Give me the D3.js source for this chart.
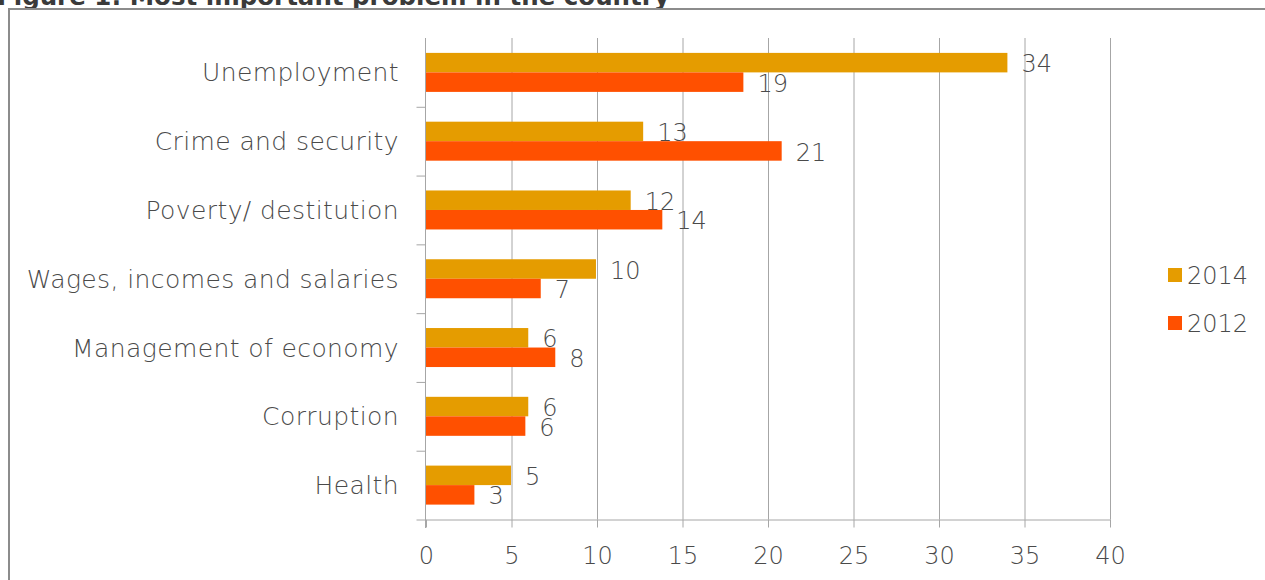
<!DOCTYPE html>
<html>
<head>
<meta charset="utf-8">
<script src="https://cdn.jsdelivr.net/npm/d3@7"></script>
<style>
  html, body { margin: 0; padding: 0; background: #fff; }
  svg { display: block; }
  .lbl { font-family: "DejaVu Sans", sans-serif; font-weight: 200; fill: #4a4a4a; }
</style>
</head>
<body>
<svg id="chart" width="1265" height="580"></svg>
<script>
const title = "Figure 1: Most important problem in the country";
const categories = ["Unemployment", "Crime and security", "Poverty/ destitution",
  "Wages, incomes and salaries", "Management of economy", "Corruption", "Health"];
const seriesNames = ["2014", "2012"];
const values2014 = [34, 12.7, 11.97, 9.94, 5.98, 5.98, 4.97];
const values2012 = [18.56, 20.8, 13.82, 6.71, 7.56, 5.81, 2.83];
const xTicks = [0, 5, 10, 15, 20, 25, 30, 35, 40];
const colors = ["#E59C00", "#FF5000"];

(function () {
const svg = d3.select("#chart");
const pLeft = 426, pRight = 1110, pTop = 38, pBottom = 519.5;

// title (cut off at the top) and frame
svg.append("text").attr("x", -3).attr("y", 5)
  .attr("font-family", "'DejaVu Sans', sans-serif").attr("font-weight", "bold")
  .attr("font-size", 24.5).attr("fill", "#3a3a3a").text(title);
svg.append("rect").attr("x", 9).attr("y", 9).attr("width", 1400).attr("height", 800)
  .attr("fill", "none").attr("stroke", "#8c8c8c").attr("stroke-width", 2);

const x = d3.scaleLinear().domain([0, 40]).range([pLeft, pRight]);
const y = d3.scaleBand().domain(categories).range([pTop, pBottom])
  .paddingInner(0.433).paddingOuter(0.2165);
const ys = d3.scaleBand().domain(seriesNames).range([0, y.bandwidth()]);

const gridColor = "#a6a6a6";

// vertical gridlines
const grid = svg.append("g").attr("transform", `translate(0,${pBottom})`)
  .call(d3.axisBottom(x).tickValues(xTicks.slice(1)).tickSize(-(pBottom - pTop)).tickFormat(""));
grid.select(".domain").remove();
grid.selectAll("line").attr("stroke", gridColor);

// x axis
const xa = svg.append("g").attr("transform", `translate(0,${pBottom})`)
  .call(d3.axisBottom(x).tickValues(xTicks).tickSize(8).tickSizeOuter(0).tickPadding(19));
xa.select(".domain").attr("stroke", gridColor);
xa.selectAll("line").attr("stroke", gridColor);
xa.selectAll("text").attr("class", "lbl").attr("font-size", 24)
  .attr("font-family", null).attr("fill", null);
xa.attr("font-family", null).attr("font-size", null);

// y axis with ticks at category boundaries
const yb = d3.scaleLinear().domain([0, categories.length]).range([pTop, pBottom]);
const ya = svg.append("g").attr("transform", `translate(${pLeft - 0.5},0)`)
  .call(d3.axisLeft(yb).ticks(categories.length).tickSize(9).tickSizeOuter(0).tickFormat(""));
ya.select(".domain").attr("stroke", gridColor).attr("d", `M0,${pTop}V${pBottom + 8.5}`);
ya.selectAll("line").attr("stroke", gridColor);
ya.selectAll(".tick").filter(d => d === 0).remove();

// category labels
svg.append("g").selectAll("text").data(categories).join("text")
  .attr("class", "lbl").attr("font-size", 25).attr("letter-spacing", "0.4px")
  .attr("x", 399).attr("y", d => y(d) + y.bandwidth() / 2)
  .attr("dy", "0.36em").attr("text-anchor", "end").text(d => d);

// bars
const series = [values2014, values2012];
const fmt = d3.format(".0f");
series.forEach((vals, si) => {
  const name = seriesNames[si];
  const g = svg.append("g");
  g.selectAll("rect").data(vals).join("rect")
    .attr("x", x(0))
    .attr("y", (d, i) => y(categories[i]) + ys(name))
    .attr("width", d => x(d) - x(0))
    .attr("height", ys.bandwidth())
    .attr("fill", colors[si]);
  g.selectAll("text").data(vals).join("text")
    .attr("class", "lbl").attr("font-size", 24)
    .attr("x", d => x(d) + 14)
    .attr("y", (d, i) => y(categories[i]) + ys(name) + ys.bandwidth() / 2 + 1)
    .attr("dy", "0.36em").text(d => fmt(d));
});

// legend
const leg = svg.append("g").selectAll("g").data(seriesNames).join("g")
  .attr("transform", (d, i) => `translate(1168,${268 + i * 48})`);
leg.append("rect").attr("width", 14).attr("height", 14).attr("fill", (d, i) => colors[i]);
leg.append("text").attr("class", "lbl").attr("font-size", 24)
  .attr("x", 19).attr("y", 7).attr("dy", "0.36em").text(d => d);
})();
</script>
</body>
</html>
